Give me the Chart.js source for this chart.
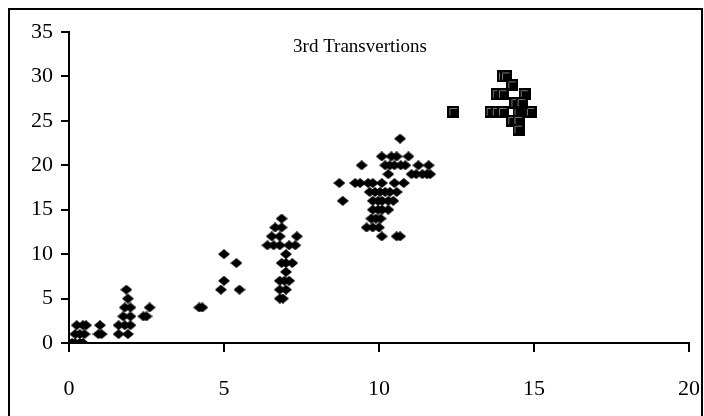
<!DOCTYPE html>
<html>
<head>
<meta charset="utf-8">
<script src="https://cdn.jsdelivr.net/npm/chart.js@4/dist/chart.umd.min.js"></script>
<style>
  html, body { margin: 0; padding: 0; background: #fff; }
  #wrap { width: 704px; height: 416px; position: relative; }
</style>
</head>
<body>
<div id="wrap"><canvas id="c" width="704" height="416"></canvas></div>
<script>
const chartTitle = '3rd Transvertions';

// diamond points (x, y)
const diamondX = [
  0.0, 0.1, 0.2, 0.35, 0.45, 0.2, 0.35, 0.5, 0.25, 0.45, 0.55,
  0.95, 1.05, 1.0,
  1.6, 1.9, 1.6, 1.8, 1.98, 1.75, 1.98, 1.8, 1.98, 1.9, 1.85,
  2.4, 2.5, 2.6,
  4.2, 4.3,
  5.0, 5.4, 5.0, 4.9, 5.5,
  6.86, 6.65, 6.86, 6.54, 6.8, 7.35, 6.4, 6.6, 6.8, 7.1, 7.3, 7.0,
  6.86, 7.0, 7.2, 7.0, 6.8, 6.95, 7.1, 6.8, 7.0, 6.8, 6.9,
  10.68,
  10.09, 10.4, 10.57, 10.95,
  9.44, 10.2, 10.35, 10.5, 10.7, 10.85, 11.27, 11.6,
  10.3, 11.05, 11.2, 11.4, 11.55, 11.65,
  8.72, 9.23, 9.39, 9.65, 9.8, 10.09, 10.5, 10.8,
  9.7, 9.87, 10.03, 10.2, 10.35, 10.57,
  8.83, 9.8, 9.97, 10.1, 10.3, 10.46,
  9.8, 9.97, 10.1, 10.3,
  9.75, 9.9, 10.05,
  9.6, 9.8, 10.0,
  10.09, 10.57, 10.68
];
const diamondY = [
  0, 0, 0, 0, 0, 1, 1, 1, 2, 2, 2,
  1, 1, 2,
  1, 1, 2, 2, 2, 3, 3, 4, 4, 5, 6,
  3, 3, 4,
  4, 4,
  10, 9, 7, 6, 6,
  14, 13, 13, 12, 12, 12, 11, 11, 11, 11, 11, 10,
  9, 9, 9, 8, 7, 7, 7, 6, 6, 5, 5,
  23,
  21, 21, 21, 21,
  20, 20, 20, 20, 20, 20, 20, 20,
  19, 19, 19, 19, 19, 19,
  18, 18, 18, 18, 18, 18, 18, 18,
  17, 17, 17, 17, 17, 17,
  16, 16, 16, 16, 16, 16,
  15, 15, 15, 15,
  14, 14, 14,
  13, 13, 13,
  12, 12, 12
];

// square points (x, y)
const squareX = [12.4, 13.6, 13.8, 14.0, 14.5, 14.9, 14.0, 14.1, 14.3, 13.8, 14.0, 14.7, 14.4, 14.6, 14.3, 14.5, 14.5];
const squareY = [26, 26, 26, 26, 26, 26, 30, 30, 29, 28, 28, 28, 27, 27, 25, 25, 24];

const xTicks = [0, 5, 10, 15, 20];
const yTicks = [0, 5, 10, 15, 20, 25, 30, 35];

const serif = '"Liberation Serif", "Times New Roman", serif';

// flattened diamond marker, like the original
function diamondImg() {
  const cv = document.createElement('canvas');
  cv.width = 12; cv.height = 10;
  const g = cv.getContext('2d');
  g.fillStyle = '#000';
  g.beginPath();
  g.moveTo(6, 0);
  g.lineTo(12, 5);
  g.lineTo(6, 10);
  g.lineTo(0, 5);
  g.closePath();
  g.fill();
  return cv;
}

function squareImg() {
  const cv = document.createElement('canvas');
  cv.width = 12; cv.height = 12;
  const g = cv.getContext('2d');
  g.fillStyle = '#000';
  g.fillRect(0, 0, 12, 12);
  g.strokeStyle = '#777';
  g.lineWidth = 1;
  g.beginPath();
  g.moveTo(2.5, 9.5);
  g.lineTo(2.5, 2.5);
  g.lineTo(9.5, 2.5);
  g.stroke();
  return cv;
}

const frame = {
  id: 'frame',
  afterDraw(chart) {
    const c = chart.ctx;
    c.save();
    c.strokeStyle = '#000';
    c.lineWidth = 2;
    c.beginPath();
    c.moveTo(9, 418);
    c.lineTo(9, 9);
    c.lineTo(702, 9);
    c.lineTo(702, 418);
    c.stroke();
    c.fillStyle = '#000';
    c.font = '19px ' + serif;
    c.textAlign = 'center';
    c.textBaseline = 'middle';
    c.fillText(chartTitle, 360, 47);
    c.restore();
  }
};

new Chart(document.getElementById('c'), {
  type: 'scatter',
  data: {
    datasets: [
      {
        label: 'diamonds',
        data: diamondX.map((x, i) => ({ x, y: diamondY[i] })),
        pointStyle: diamondImg(),
        pointRadius: 6
      },
      {
        label: 'squares',
        data: squareX.map((x, i) => ({ x, y: squareY[i] })),
        pointStyle: squareImg(),
        pointRadius: 6
      }
    ]
  },
  options: {
    responsive: false,
    animation: false,
    layout: { padding: { left: 0, top: 32, right: 15, bottom: 0 } },
    plugins: { legend: { display: false }, tooltip: { enabled: false } },
    scales: {
      x: {
        type: 'linear',
        min: 0, max: 20,
        afterBuildTicks: s => { s.ticks = xTicks.map(v => ({ value: v })); },
        afterFit: s => { s.height = 73; s.paddingLeft = 0; s.paddingRight = 0; },
        border: { color: '#000', width: 2 },
        grid: { drawOnChartArea: false, drawTicks: true, tickLength: 9, color: '#000', lineWidth: 2 },
        ticks: { color: '#000', padding: 24, font: { family: serif, size: 22 } }
      },
      y: {
        type: 'linear',
        min: 0, max: 35,
        afterBuildTicks: s => { s.ticks = yTicks.map(v => ({ value: v })); },
        afterFit: s => { s.width = 69; s.paddingTop = 0; s.paddingBottom = 0; },
        border: { color: '#000', width: 2 },
        grid: { drawOnChartArea: false, drawTicks: true, tickLength: 8, color: '#000', lineWidth: 2 },
        ticks: { color: '#000', padding: 8, font: { family: serif, size: 22 } }
      }
    }
  },
  plugins: [frame]
});
</script>
</body>
</html>
